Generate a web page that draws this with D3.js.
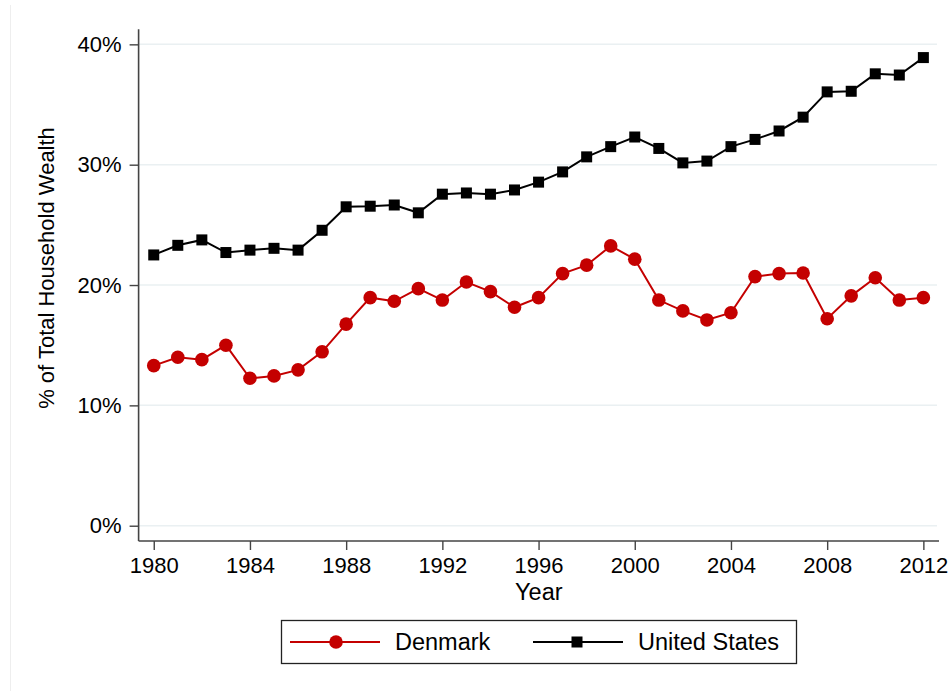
<!DOCTYPE html>
<html>
<head>
<meta charset="utf-8">
<script src="https://cdn.jsdelivr.net/npm/d3@7"></script>
<style>
  html, body { margin: 0; padding: 0; background: #fff; }
  svg { display: block; font-family: Arial, "Liberation Sans", sans-serif; }
</style>
</head>
<body>
<svg id="chart" width="951" height="691"></svg>
<script>
/* data */
var years = d3.range(1980, 2013);
var denmark = [13.3, 14.0, 13.8, 15.0, 12.25, 12.45, 12.95, 14.45, 16.75, 18.95,
               18.65, 19.7, 18.75, 20.25, 19.45, 18.15, 18.95, 20.95, 21.65, 23.25,
               22.15, 18.75, 17.85, 17.1, 17.7, 20.7, 20.95, 21.0, 17.2, 19.1,
               20.6, 18.75, 18.95];
var unitedStates = [22.5, 23.3, 23.75, 22.7, 22.9, 23.05, 22.9, 24.55, 26.5, 26.55,
                    26.65, 26.0, 27.55, 27.65, 27.55, 27.9, 28.55, 29.4, 30.65, 31.5,
                    32.3, 31.35, 30.15, 30.3, 31.5, 32.1, 32.8, 33.95, 36.05, 36.1,
                    37.55, 37.45, 38.9];
var yTicks = [0, 10, 20, 30, 40];
var xTicks = d3.range(1980, 2013, 4);
var seriesNames = ['Denmark', 'United States'];

var red = '#c40000', black = '#000';

var svg = d3.select('#chart');

// faint outer edge
svg.append('line')
    .attr('x1', 10.5).attr('x2', 10.5).attr('y1', 5).attr('y2', 691)
    .style('stroke', '#eeeeee').style('stroke-width', 1);

var plotLeft = 138.6, plotRight = 939, plotTop = 29.3, plotBottom = 541;

var x = d3.scaleLinear().domain([1979.37, 2012.65]).range([plotLeft, plotRight]);
var y = d3.scaleLinear().domain([-1.27, 41.25]).range([plotBottom, plotTop]);

// gridlines
svg.append('g').selectAll('line')
    .data(yTicks)
    .enter().append('line')
    .attr('x1', plotLeft).attr('x2', 937)
    .attr('y1', function (d) { return y(d); })
    .attr('y2', function (d) { return y(d); })
    .style('stroke', '#eaf0f2').style('stroke-width', 1.5);

// y axis
var yAxis = svg.append('g')
    .attr('transform', 'translate(' + plotLeft + ',0)')
    .call(d3.axisLeft(y).tickValues(yTicks).tickSize(9).tickPadding(8)
        .tickFormat(function (d) { return d + '%'; }));
yAxis.select('.domain').attr('d', 'M0,' + plotTop + 'V' + plotBottom);

// x axis
var xAxis = svg.append('g')
    .attr('transform', 'translate(0,' + plotBottom + ')')
    .call(d3.axisBottom(x).tickValues(xTicks).tickSize(9).tickPadding(7)
        .tickFormat(d3.format('d')));
xAxis.select('.domain').attr('d', 'M' + plotLeft + ',0H' + plotRight);

svg.selectAll('.domain').style('stroke', '#444').style('stroke-width', 1.6);
svg.selectAll('.tick line').style('stroke', '#444').style('stroke-width', 1.4);
svg.selectAll('.tick text').style('font-size', '22px').style('fill', '#000')
    .style('font-family', 'Arial, "Liberation Sans", sans-serif');

// axis titles
svg.append('text')
    .attr('x', (plotLeft + plotRight) / 2).attr('y', 600)
    .attr('text-anchor', 'middle')
    .style('font-size', '23.5px')
    .text('Year');

svg.append('text')
    .attr('transform', 'translate(54,268) rotate(-90)')
    .attr('text-anchor', 'middle')
    .style('font-size', '22px')
    .text('% of Total Household Wealth');

var line = d3.line()
    .x(function (d, i) { return x(years[i]); })
    .y(function (d) { return y(d); });

// US series
svg.append('path')
    .datum(unitedStates)
    .attr('d', line)
    .style('fill', 'none').style('stroke', black).style('stroke-width', 2);
svg.append('g').selectAll('rect')
    .data(unitedStates)
    .enter().append('rect')
    .attr('x', function (d, i) { return x(years[i]) - 5.5; })
    .attr('y', function (d) { return y(d) - 5.5; })
    .attr('width', 11).attr('height', 11)
    .style('fill', black);

// Denmark series
svg.append('path')
    .datum(denmark)
    .attr('d', line)
    .style('fill', 'none').style('stroke', red).style('stroke-width', 2);
svg.append('g').selectAll('circle')
    .data(denmark)
    .enter().append('circle')
    .attr('cx', function (d, i) { return x(years[i]); })
    .attr('cy', function (d) { return y(d); })
    .attr('r', 6.8)
    .style('fill', red);

// legend
var legend = svg.append('g');
legend.append('rect')
    .attr('x', 281.5).attr('y', 620.5).attr('width', 515).attr('height', 43)
    .style('fill', '#fff').style('stroke', '#222').style('stroke-width', 1.3);

var items = [
    { name: seriesNames[0], color: red, shape: 'circle', x0: 290 },
    { name: seriesNames[1], color: black, shape: 'square', x0: 533 }
];
var lg = legend.selectAll('g.legendg')
    .data(items)
    .enter().append('g')
    .attr('class', 'legendg')
    .attr('transform', function (d) { return 'translate(' + d.x0 + ',642)'; });

lg.append('line')
    .attr('x1', 0).attr('x2', 90).attr('y1', 0).attr('y2', 0)
    .style('stroke', function (d) { return d.color; }).style('stroke-width', 2);
lg.each(function (d) {
    var g = d3.select(this);
    if (d.shape === 'circle') {
        g.append('circle').attr('cx', 46).attr('cy', 0).attr('r', 6.8).style('fill', d.color);
    } else {
        g.append('rect').attr('x', 38.5).attr('y', -5.5).attr('width', 11).attr('height', 11).style('fill', d.color);
    }
});
lg.append('text')
    .attr('x', 105).attr('y', 0).attr('dy', '0.36em')
    .style('font-size', '23.5px')
    .text(function (d) { return d.name; });
</script>
</body>
</html>
